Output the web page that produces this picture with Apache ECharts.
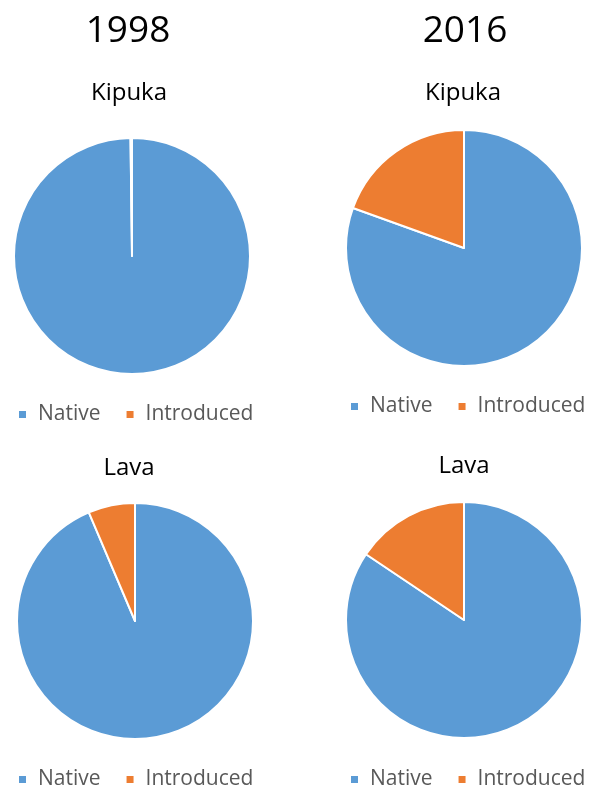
<!DOCTYPE html>
<html>
<head>
<meta charset="utf-8">
<script src="https://cdn.jsdelivr.net/npm/echarts@6/dist/echarts.min.js"></script>
<style>
html,body{margin:0;padding:0;background:#fff;}
#chart{width:592px;height:789px;}
</style>
</head>
<body>
<div id="chart"></div>
<script>
// ---- data ----
const years = ['1998', '2016'];
const sites = ['Kipuka', 'Lava'];
const categories = ['Native', 'Introduced'];
const kipuka1998 = [99.8, 0.2];
const kipuka2016 = [80.5, 19.5];
const lava1998 = [93.6, 6.4];
const lava2016 = [84.4, 15.6];

// ---- layout ----
const colors = ['#5B9BD5', '#ED7D31'];
const FONT = '"Open Sans", sans-serif';
const panels = [
  { values: kipuka1998, site: sites[0], cx: 132, cy: 256, titleX: 129, titleTop: 81, legendX: 17, legendY: 404 },
  { values: kipuka2016, site: sites[0], cx: 464, cy: 248, titleX: 463, titleTop: 81, legendX: 349, legendY: 396 },
  { values: lava1998, site: sites[1], cx: 135, cy: 621, titleX: 129, titleTop: 456, legendX: 17, legendY: 769 },
  { values: lava2016, site: sites[1], cx: 464, cy: 620, titleX: 464, titleTop: 454, legendX: 349, legendY: 769 }
];
const yearX = [128, 465];

const titles = years.map((y, i) => ({
  text: y, left: yearX[i], top: 13, textAlign: 'center', padding: 0,
  textStyle: { fontFamily: FONT, fontSize: 37, fontWeight: 'normal', color: '#000' }
})).concat(panels.map(p => ({
  text: p.site, left: p.titleX, top: p.titleTop, textAlign: 'center', padding: 0,
  textStyle: { fontFamily: FONT, fontSize: 24, fontWeight: 'normal', color: '#000' }
})));

const legends = panels.map(p => ({
  data: categories, left: p.legendX, top: p.legendY, orient: 'horizontal',
  width: 260, padding: 0,
  icon: 'rect', itemWidth: 9, itemHeight: 9, itemGap: 24,
  selectedMode: false,
  textStyle: { fontFamily: FONT, fontSize: 21, color: '#595959', padding: [0, 0, 0, 6] }
}));

const series = panels.map(p => ({
  type: 'pie',
  center: [p.cx, p.cy],
  radius: 118,
  startAngle: 90,
  clockwise: true,
  label: { show: false },
  labelLine: { show: false },
  emphasis: { disabled: true },
  itemStyle: { borderColor: '#fff', borderWidth: 2 },
  data: categories.map((c, i) => ({ name: c, value: p.values[i], itemStyle: { color: colors[i] } }))
}));

const chart = echarts.init(document.getElementById('chart'), null, { renderer: 'canvas' });
chart.setOption({
  animation: false,
  backgroundColor: '#fff',
  color: colors,
  title: titles,
  legend: legends,
  series: series
});
</script>
</body>
</html>
